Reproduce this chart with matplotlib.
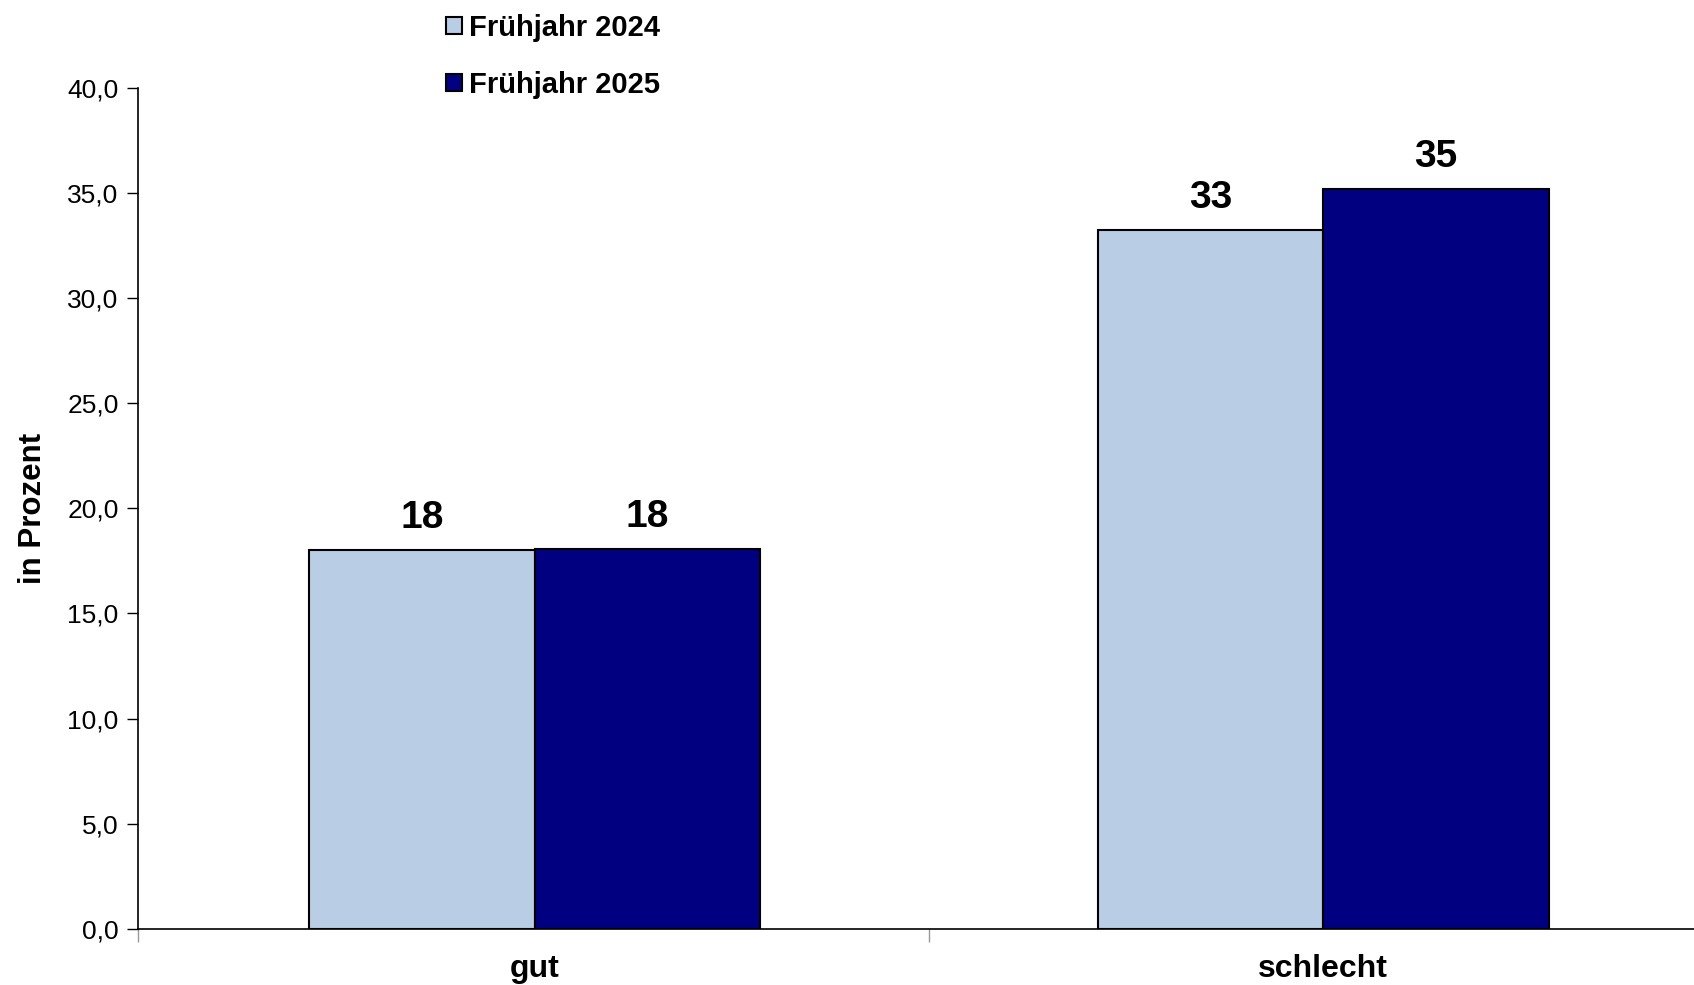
import matplotlib.pyplot as plt
from matplotlib.patches import Patch
import numpy as np

categories = ['gut', 'schlecht']
series = ['Frühjahr 2024', 'Frühjahr 2025']
values_2024 = [18.02, 33.22]
values_2025 = [18.07, 35.17]
colors = ['#B9CDE5', '#000080']
yticks = [0, 5, 10, 15, 20, 25, 30, 35, 40]

plt.rcParams['font.family'] = ['Liberation Sans', 'DejaVu Sans']

fig = plt.figure(figsize=(16.94, 9.85), dpi=100)
ax = fig.add_axes([0.0815, 0.057, 0.931, 0.854])

x = np.arange(len(categories))
w = 0.286
for i, (vals, name) in enumerate([(values_2024, series[0]), (values_2025, series[1])]):
    pos = x + (i - 0.5) * w
    bars = ax.bar(pos, vals, w, color=colors[i], edgecolor='black', linewidth=1.5, label=name, zorder=3)
    for b, v in zip(bars, vals):
        ax.annotate('{:.0f}'.format(v), (b.get_x() + b.get_width() / 2, v), xytext=(0, 10),
                    textcoords='offset points', ha='center', va='bottom', fontsize=28, fontweight='bold')

x0, x1 = -0.503, 1.497
ax.set_xlim(x0, x1)
ax.set_ylim(0, 40)
ax.set_yticks(yticks)
ax.set_yticklabels(['{:.1f}'.format(t).replace('.', ',') for t in yticks], fontsize=19)
ax.set_xticks([x0, 0.5, x1])
ax.set_xticklabels([])
ax.set_xticks(x, minor=True)
ax.set_xticklabels(categories, minor=True, fontsize=23, fontweight='bold')
ax.tick_params(axis='x', which='minor', length=0, pad=18)
ax.tick_params(axis='x', which='major', length=9, width=1, color='#999999')
ax.tick_params(axis='y', length=8, width=1, pad=6)
ax.spines['top'].set_visible(False)
ax.spines['right'].set_visible(False)
ax.spines['left'].set_linewidth(1.2)
ax.spines['bottom'].set_linewidth(1.2)
ax.set_ylabel('in Prozent', fontsize=22.5, fontweight='bold', labelpad=14)

handles = [Patch(facecolor=colors[0], edgecolor='black', linewidth=1.5),
           Patch(facecolor=colors[1], edgecolor='black', linewidth=1.5)]
fig.legend(handles, series, loc='upper left', bbox_to_anchor=(0.263, 0.986), frameon=False,
           prop={'size': 21, 'weight': 'bold'}, handlelength=0.55, handleheight=0.55,
           handletextpad=0.25, labelspacing=1.0, borderpad=0, borderaxespad=0)

fig.savefig('out.png', dpi=100)
